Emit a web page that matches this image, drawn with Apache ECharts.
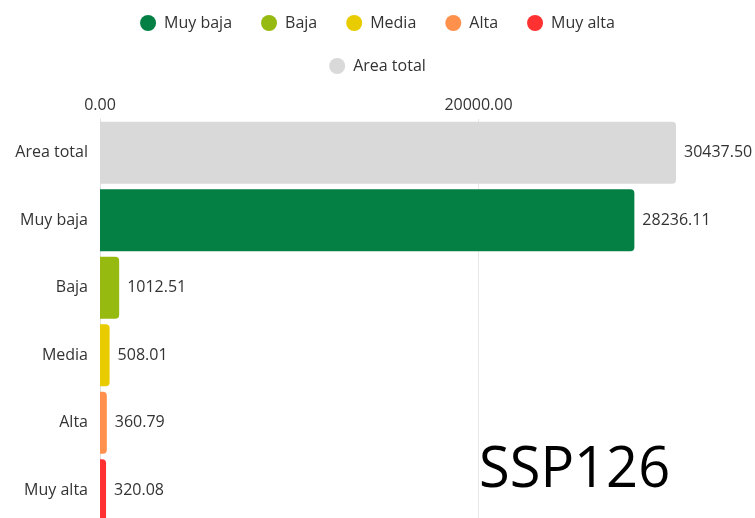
<!DOCTYPE html>
<html>
<head>
<meta charset="utf-8">
<script src="https://cdn.jsdelivr.net/npm/echarts@6/dist/echarts.min.js"></script>
<style>
  html, body { margin: 0; padding: 0; background: #fff; }
  #chart { width: 755px; height: 518px; }
</style>
</head>
<body>
<div id="chart"></div>
<script>
// categories top to bottom
var categories = ['Area total', 'Muy baja', 'Baja', 'Media', 'Alta', 'Muy alta'];
var values = [30437.50, 28236.11, 1012.51, 508.01, 360.79, 320.08];
// one colour per class
var colors = ['#d9d9d9', '#058045', '#97ba10', '#e8cc00', '#ff914d', '#ff3131'];
var legendRow1 = ['Muy baja', 'Baja', 'Media', 'Alta', 'Muy alta'];
var legendRow2 = ['Area total'];
var scenario = 'SSP126';

var font = 'Open Sans';

// one series per class so the legend can list them, stacked so they share the band
var series = categories.map(function (name, i) {
  var data = categories.map(function (c, j) { return j === i ? values[i] : '-'; });
  return {
    name: name,
    type: 'bar',
    stack: 'all',
    barCategoryGap: '8%',
    color: colors[i],
    itemStyle: { borderRadius: [0, 4, 4, 0] },
    label: {
      show: true,
      position: 'right',
      distance: 8,
      color: '#333',
      fontSize: 16,
      fontFamily: font,
      formatter: function (p) { return p.value.toFixed(2); }
    },
    data: data
  };
});

var chart = echarts.init(document.getElementById('chart'));
chart.setOption({
  animation: false,
  title: {
    text: scenario,
    left: 474,
    top: 438,
    textStyle: { fontSize: 56, fontWeight: 'normal', color: '#000', fontFamily: font }
  },
  legend: [
    {
      data: legendRow1,
      top: 10,
      left: 'center',
      icon: 'circle',
      itemWidth: 22,
      itemHeight: 16,
      itemGap: 29,
      textStyle: { fontSize: 16, color: '#333', fontFamily: font }
    },
    {
      data: legendRow2,
      top: 53,
      left: 'center',
      icon: 'circle',
      itemWidth: 22,
      itemHeight: 16,
      textStyle: { fontSize: 16, color: '#333', fontFamily: font }
    }
  ],
  grid: { left: 100, top: 119, width: 757, height: 405, outerBoundsMode: 'none' },
  xAxis: {
    type: 'value',
    position: 'top',
    min: 0,
    max: 40000,
    interval: 20000,
    axisLine: { show: false },
    axisTick: { show: false },
    splitLine: { lineStyle: { color: '#e8e8e8' } },
    axisLabel: {
      margin: 6,
      color: '#333',
      fontSize: 16,
      fontFamily: font,
      formatter: function (v) { return v.toFixed(2); }
    }
  },
  yAxis: {
    type: 'category',
    inverse: true,
    data: categories,
    axisLine: { lineStyle: { color: '#e0e0e0' } },
    axisTick: { show: false },
    axisLabel: { margin: 12, color: '#333', fontSize: 16, fontFamily: font }
  },
  series: series
});
</script>
</body>
</html>
